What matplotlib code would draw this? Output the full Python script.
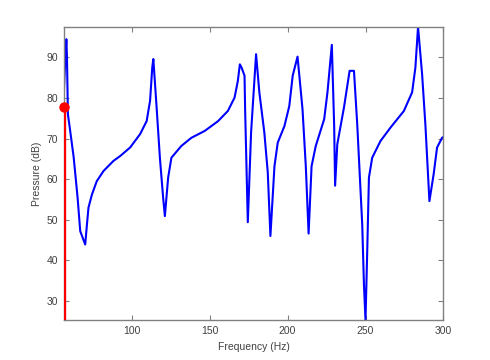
import numpy as np
import matplotlib
matplotlib.use("Agg")
import matplotlib.pyplot as plt

# frequency response
freq = [56.4, 57.0, 58.1, 58.5, 59.1, 60.0, 62.8, 65.3, 67.0, 70.2, 71.3, 72.3,
        74.5, 77.6, 81.9, 88.3, 92.6, 99.0, 105.4, 109.6, 111.8, 113.2, 113.9,
        116.0, 118.1, 120.2, 121.3, 123.4, 125.5, 131.9, 138.3, 146.9, 155.4,
        161.7, 166.0, 168.1, 169.4, 170.5, 172.4, 172.8, 174.5, 176.6, 179.8,
        181.9, 185.1, 187.3, 189.0, 191.6, 193.7, 198.0, 201.1, 203.3, 206.4,
        209.6, 211.7, 213.5, 215.4, 218.1, 223.5, 225.6, 228.4, 229.9, 230.5,
        231.9, 236.2, 239.8, 242.6, 244.7, 247.9, 249.0, 250.0, 251.1, 252.2,
        254.3, 259.6, 266.0, 274.6, 279.9, 282.0, 283.7, 286.3, 288.4, 291.0,
        293.7, 295.9, 299.1, 300.0]
pressure = [80.5, 85.9, 94.5, 90.0, 76.0, 73.5, 65.4, 55.5, 47.2, 43.9, 48.8, 53.0,
            56.2, 59.5, 62.0, 64.5, 65.7, 67.8, 71.1, 74.3, 79.3, 87.5, 89.6,
            77.7, 65.3, 55.4, 50.9, 60.4, 65.3, 68.2, 70.2, 71.9, 74.3,
            76.8, 80.1, 84.2, 88.3, 87.5, 85.5, 76.8, 49.4, 71.5, 90.8,
            81.4, 71.5, 61.7, 46.0, 63.2, 69.0, 73.1, 78.0, 85.5, 90.2,
            77.2, 63.2, 46.6, 63.2, 68.2, 74.8, 81.4, 93.1, 73.1, 58.4,
            68.6, 77.7, 86.7, 86.7, 73.5, 48.8, 34.0, 25.3, 42.2, 60.4,
            65.3, 69.4, 72.7, 76.8, 81.4, 87.5, 97.5, 85.9, 73.5, 54.6,
            61.2, 67.8, 70.2, 70.4]

stem_f = [56.4]
stem_p = [77.8]

plt.rcParams['font.family'] = ['Liberation Sans', 'DejaVu Sans']
fig = plt.figure(figsize=(4.9, 3.6), dpi=100)
ax = fig.add_axes([0.13, 0.11, 0.775, 0.815])

ax.plot(freq, pressure, color="#0000ff", linewidth=1.5, zorder=2)
ax.vlines(stem_f, 0, stem_p, color="#ff0000", linewidth=2.4, zorder=3)
ax.plot(stem_f, stem_p, "o", color="#ff0000", markersize=6.5, zorder=4, clip_on=False)

ax.set_xlim(56.4, 300)
ax.set_ylim(25.2, 97.5)
ax.set_xticks([100, 150, 200, 250, 300])
ax.set_yticks([30, 40, 50, 60, 70, 80, 90])

ax.set_xlabel("Frequency (Hz)", fontsize=7.5, color="#404040", labelpad=4)
ax.set_ylabel("Pressure (dB)", fontsize=7.5, color="#404040", labelpad=3)

for s in ax.spines.values():
    s.set_color("#808080")
    s.set_linewidth(1.0)
ax.tick_params(axis="both", which="both", direction="in", length=3.5, width=0.8,
               colors="#808080", labelcolor="#404040", labelsize=7.5,
               top=True, right=True, pad=4)

fig.savefig("out.png", dpi=100, facecolor="white")
